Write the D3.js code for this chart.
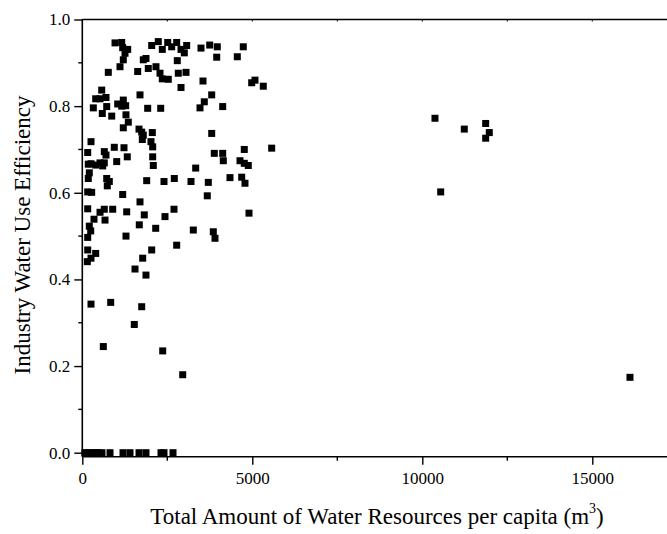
<!DOCTYPE html>
<html><head><meta charset="utf-8">
<script src="https://cdn.jsdelivr.net/npm/d3@7"></script>
<style>body{margin:0;background:#fff}svg{display:block}text{font-family:"Liberation Serif","Times New Roman",serif;fill:#000}</style>
</head><body>
<svg id="c" width="667" height="534"></svg>
<script>
// Total amount of water resources per capita (m3)
const waterPerCapita = [
 962,1159,1188,1335,1256,1206,1109,765,2041,2235,2353,2512,2629,2776,2903,3000,3070,2794,3491,3747,
 3970,3953,4735,4559,1794,1873,1629,1941,2167,2285,2353,2529,2823,3050,2903,3550,4982,5079,5323,571,
 394,521,697,324,718,588,865,1041,1206,1159,1276,1285,1353,1206,1697,1923,2306,3462,3588,3806,
 4129,1668,1747,1794,2059,1765,2020,2070,3806,256,941,1226,5570,4764,159,647,697,1323,2070,3882,
 4129,4147,1012,2088,176,256,394,521,600,647,4638,4764,4882,3335,206,176,718,794,735,1894,
 2403,2706,3197,3706,4344,4688,4785,159,276,1188,3676,1697,159,521,647,894,1306,2697,1823,2432,
 4903,344,668,206,1676,247,2159,3265,3853,3903,159,1285,159,394,256,147,2041,2776,1776,1550,
 1873,256,835,1747,1529,618,2365,2953,
 79,168,285,374,462,579,815,1197,1403,1668,1873,2315,2403,2668,
 10373,11235,11864,11970,11864,10541,16108
];
// Industry water use efficiency
const efficiency = [
 0.946,0.947,0.935,0.931,0.922,0.907,0.891,0.878,0.940,0.949,0.931,0.947,0.937,0.947,0.931,0.923,0.940,0.905,0.934,0.941,
 0.937,0.913,0.937,0.914,0.907,0.910,0.880,0.887,0.891,0.876,0.863,0.862,0.876,0.878,0.843,0.858,0.854,0.860,0.846,0.837,
 0.817,0.817,0.820,0.796,0.799,0.783,0.777,0.805,0.814,0.800,0.801,0.780,0.763,0.750,0.826,0.795,0.795,0.796,0.810,0.826,
 0.799,0.747,0.740,0.733,0.739,0.723,0.718,0.706,0.737,0.718,0.705,0.704,0.703,0.700,0.693,0.695,0.687,0.683,0.683,0.691,
 0.691,0.674,0.672,0.663,0.666,0.667,0.664,0.669,0.662,0.669,0.674,0.668,0.663,0.657,0.646,0.633,0.633,0.626,0.616,0.628,
 0.626,0.633,0.626,0.624,0.635,0.636,0.622,0.602,0.601,0.596,0.593,0.579,0.563,0.555,0.562,0.562,0.556,0.562,0.549,0.545,
 0.553,0.539,0.537,0.523,0.526,0.512,0.518,0.514,0.510,0.495,0.497,0.500,0.468,0.460,0.449,0.441,0.468,0.479,0.449,0.424,
 0.410,0.343,0.347,0.337,0.296,0.245,0.235,0.180,
 0,0,0,0,0,0,0,0,0,0,0,0,0,0,
 0.772,0.747,0.760,0.739,0.726,0.602,0.174
];
const xTickValues = [0, 5000, 10000, 15000];
const yTickValues = [0, 0.2, 0.4, 0.6, 0.8, 1.0];
const xTitle = "Total Amount of Water Resources per capita (m";
const yTitle = "Industry Water Use Efficiency";

const svg = d3.select("#c");
const mLeft = 82.3, mTop = 19.5, zeroY = 452.7;
const x = d3.scaleLinear().domain([0, 5000]).range([mLeft, mLeft + 170]);
const y = d3.scaleLinear().domain([0, 1]).range([zeroY, mTop]);
const bottomY = zeroY + 4;
const xMax = x.invert(667);

const data = waterPerCapita.map((v, i) => ({x: v, y: efficiency[i]}));

// points
const s = 7;
svg.append("g").selectAll("rect").data(data).join("rect")
  .attr("x", d => x(d.x) - s/2).attr("y", d => y(d.y) - s/2)
  .attr("width", s).attr("height", s).attr("fill", "#000");

// bottom axis
const gx = svg.append("g").attr("transform", `translate(0,${bottomY})`);
gx.call(d3.axisBottom(x).tickValues(xTickValues).tickSize(8).tickSizeOuter(0).tickFormat(d3.format("d")));
gx.select(".domain").remove();
gx.append("line").attr("x1", mLeft).attr("x2", 667).attr("stroke", "#000").attr("stroke-width", 1.6);
gx.selectAll(".tick line").attr("stroke-width", 1.4);
gx.selectAll(".tick text").attr("font-size", 17).attr("font-family", "Liberation Serif").attr("dy", "0.95em");
gx.selectAll(".minor").data(d3.range(2500, xMax, 5000)).join("line").attr("class", "minor")
  .attr("x1", d => x(d)).attr("x2", d => x(d)).attr("y1", 0).attr("y2", 4).attr("stroke", "#000").attr("stroke-width", 1.4);

// top line with small ticks
const gt = svg.append("g");
gt.append("line").attr("x1", mLeft).attr("x2", 667).attr("y1", mTop).attr("y2", mTop).attr("stroke", "#000").attr("stroke-width", 1.6);
gt.selectAll(".tt").data(d3.range(0, xMax, 2500)).join("line").attr("class", "tt")
  .attr("x1", d => x(d)).attr("x2", d => x(d)).attr("y1", mTop).attr("y2", mTop + 2).attr("stroke", "#000").attr("stroke-width", 1);

// left axis
const gy = svg.append("g").attr("transform", `translate(${mLeft},0)`);
gy.call(d3.axisLeft(y).tickValues(yTickValues).tickSize(8).tickSizeOuter(0).tickFormat(d3.format(".1f")));
gy.select(".domain").remove();
gy.append("line").attr("y1", mTop).attr("y2", bottomY).attr("stroke", "#000").attr("stroke-width", 1.6);
gy.selectAll(".tick line").attr("stroke-width", 1.4);
gy.selectAll(".tick text").attr("font-size", 17).attr("font-family", "Liberation Serif").attr("x", -12);
gy.selectAll(".minor").data([0.1, 0.3, 0.5, 0.7, 0.9]).join("line").attr("class", "minor")
  .attr("x1", 0).attr("x2", -4).attr("y1", d => y(d)).attr("y2", d => y(d)).attr("stroke", "#000").attr("stroke-width", 1.4);

// titles
const tx = svg.append("text").attr("x", 377).attr("y", 524).attr("text-anchor", "middle").attr("font-size", 23);
tx.append("tspan").text(xTitle);
tx.append("tspan").attr("font-size", 14).attr("dy", -11).text("3");
tx.append("tspan").attr("dy", 11).text(")");

svg.append("text").attr("transform", "translate(30,235) rotate(-90)").attr("text-anchor", "middle")
  .attr("font-size", 23).text(yTitle);
</script>
</body></html>
